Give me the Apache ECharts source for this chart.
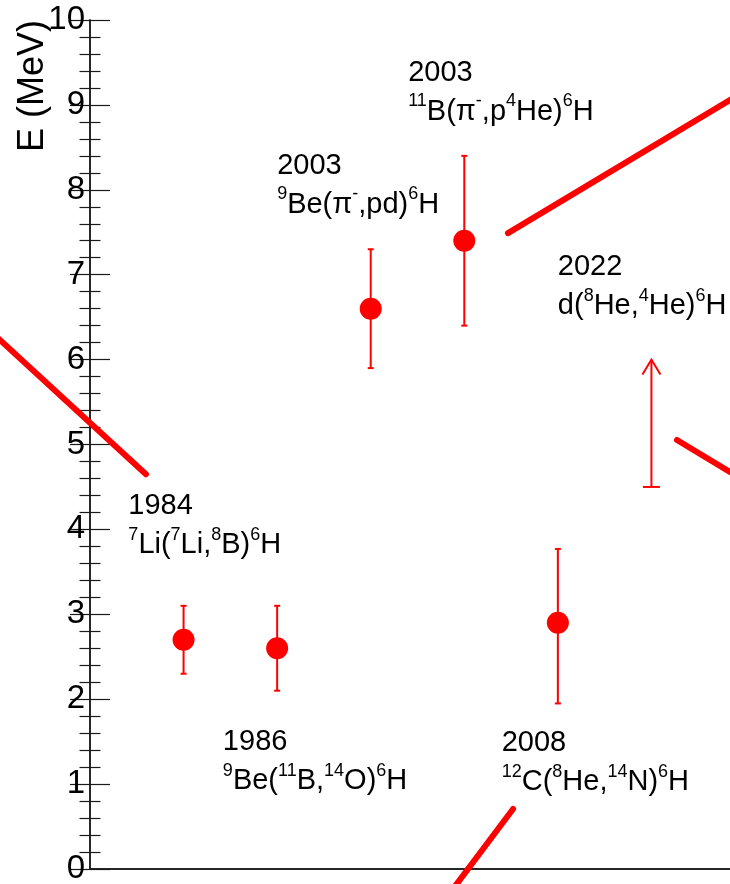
<!DOCTYPE html>
<html>
<head>
<meta charset="utf-8">
<script src="https://cdn.jsdelivr.net/npm/echarts@6/dist/echarts.min.js"></script>
<style>
  html, body { margin: 0; padding: 0; background: #ffffff; }
  #chart { width: 730px; height: 884px; }
</style>
</head>
<body>
<div id="chart"></div>
<script>
// Measured 6H ground-state energies with their uncertainties
const xPos     = [1, 2, 3, 4, 5];
const energy   = [2.7, 2.6, 6.6, 7.4, 2.9];
const errLow   = [2.3, 2.1, 5.9, 6.4, 1.95];
const errHigh  = [3.1, 3.1, 7.3, 8.4, 3.77];

// Lower limit reported in 2022
const limitX    = [6];
const limitFrom = [4.5];
const limitTo   = [6.0];

// Vertical axis ticks
const yMin = 0, yMax = 10, yStep = 1;

// Experiment captions: year and reaction (^{..} = superscript)
const years     = ['1984', '1986', '2003', '2003', '2008', '2022'];
const reactions = [
  '^{7}Li(^{7}Li,^{8}B)^{6}H',
  '^{9}Be(^{11}B,^{14}O)^{6}H',
  '^{9}Be(π^{-},pd)^{6}H',
  '^{11}B(π^{-},p^{4}He)^{6}H',
  '^{12}C(^{8}He,^{14}N)^{6}H',
  'd(^{8}He,^{4}He)^{6}H'
];
// Caption anchors (top-left corner, in axis units)
const captionX = [0.41, 1.42, 2.00, 3.40, 4.40, 5.00];
const captionY = [4.50, 1.72, 8.51, 9.61, 1.71, 7.32];

// Thick red guide strokes (axis units)
const guideA = [[-1.07, 6.34], [0.598, 4.65]];
const guideB = [[4.467, 7.49], [7.0, 9.164]];
const guideC = [[6.273, 5.053], [7.0, 4.57]];
const guideD = [[4.521, 0.707], [3.831, -0.306]];
const guides = [guideA, guideB, guideC, guideD];

const RED = '#ff0000';
const FONT = '"Liberation Sans", Arial, Helvetica, sans-serif';

function toRich(str) {
  // turn "^{9}Be(..." into rich-text tokens
  let out = '';
  const re = /\^\{([^}]*)\}/g;
  let last = 0, m;
  while ((m = re.exec(str)) !== null) {
    if (m.index > last) out += '{m|' + str.slice(last, m.index) + '}';
    out += '{s|' + m[1] + '}';
    last = re.lastIndex;
  }
  if (last < str.length) out += '{m|' + str.slice(last) + '}';
  return out;
}

const chart = echarts.init(document.getElementById('chart'), null, { renderer: 'canvas' });

const axisLine = { show: true, lineStyle: { color: '#1a1a1a', width: 1.5 } };
const tickStyle = { color: '#1a1a1a', width: 1.2 };

const option = {
  animation: false,
  backgroundColor: '#ffffff',
  grid: { left: 90, top: 20, width: 655, height: 849, containLabel: false, outerBoundsMode: 'none' },
  xAxis: [
    { type: 'value', min: 0, max: 7, position: 'bottom',
      axisLine: axisLine, axisTick: { show: false }, axisLabel: { show: false }, splitLine: { show: false } },
    { type: 'value', min: 0, max: 7, position: 'top',
      axisLine: axisLine, axisTick: { show: false }, axisLabel: { show: false }, splitLine: { show: false } }
  ],
  yAxis: [
    { type: 'value', min: yMin, max: yMax, interval: yStep, position: 'left',
      axisLine: axisLine,
      axisTick: { show: true, inside: true, length: 20, lineStyle: tickStyle },
      minorTick: { show: true, splitNumber: 5, length: 10.5, lineStyle: tickStyle },
      axisLabel: { show: true, inside: false, margin: 5, fontSize: 33, color: '#000', fontFamily: FONT },
      splitLine: { show: false } },
    { type: 'value', min: yMin, max: yMax, interval: yStep, position: 'right',
      axisLine: axisLine,
      axisTick: { show: true, inside: true, length: 20, lineStyle: tickStyle },
      minorTick: { show: true, splitNumber: 5, length: 10.5, lineStyle: tickStyle },
      axisLabel: { show: false },
      splitLine: { show: false } }
  ],
  graphic: [
    { type: 'text', x: 33, y: 20, rotation: Math.PI / 2,
      style: { text: 'E (MeV)', font: '36px ' + FONT, fill: '#000', align: 'right', verticalAlign: 'middle' } }
  ],
  series: [
    // guide strokes
    {
      type: 'custom', z: 1, clip: false, silent: true,
      data: guides.map(g => [g[0][0], g[0][1], g[1][0], g[1][1]]),
      renderItem: function (params, api) {
        const a = api.coord([api.value(0), api.value(1)]);
        const b = api.coord([api.value(2), api.value(3)]);
        return { type: 'line', shape: { x1: a[0], y1: a[1], x2: b[0], y2: b[1] },
                 style: { stroke: RED, lineWidth: 6, lineCap: 'round' } };
      }
    },
    // error bars
    {
      type: 'custom', z: 2, clip: false,
      data: xPos.map((x, i) => [x, errLow[i], errHigh[i]]),
      renderItem: function (params, api) {
        const x = api.value(0);
        const lo = api.coord([x, api.value(1)]);
        const hi = api.coord([x, api.value(2)]);
        const c = 3;
        const st = { stroke: RED, lineWidth: 2 };
        return { type: 'group', children: [
          { type: 'line', shape: { x1: lo[0], y1: lo[1], x2: hi[0], y2: hi[1] }, style: st },
          { type: 'line', shape: { x1: lo[0] - c, y1: lo[1], x2: lo[0] + c, y2: lo[1] }, style: st },
          { type: 'line', shape: { x1: hi[0] - c, y1: hi[1], x2: hi[0] + c, y2: hi[1] }, style: st }
        ] };
      }
    },
    // central values
    {
      type: 'scatter', z: 3, symbol: 'circle', symbolSize: 22,
      itemStyle: { color: RED, opacity: 1 },
      data: xPos.map((x, i) => [x, energy[i]])
    },
    // lower-limit arrow
    {
      type: 'custom', z: 2, clip: false,
      data: limitX.map((x, i) => [x, limitFrom[i], limitTo[i]]),
      renderItem: function (params, api) {
        const x = api.value(0);
        const lo = api.coord([x, api.value(1)]);
        const hi = api.coord([x, api.value(2)]);
        const st = { stroke: RED, lineWidth: 2, fill: null };
        return { type: 'group', children: [
          { type: 'line', shape: { x1: lo[0], y1: lo[1], x2: hi[0], y2: hi[1] }, style: st },
          { type: 'line', shape: { x1: lo[0] - 8.5, y1: lo[1], x2: lo[0] + 8.5, y2: lo[1] }, style: st },
          { type: 'polyline', shape: { points: [[hi[0] - 9, hi[1] + 15], [hi[0], hi[1]], [hi[0] + 9, hi[1] + 15]] }, style: st }
        ] };
      }
    },
    // captions
    {
      type: 'custom', z: 4, clip: false, silent: true,
      data: captionX.map((x, i) => [x, captionY[i]]),
      renderItem: function (params, api) {
        const i = params.dataIndex;
        const p = api.coord([api.value(0), api.value(1)]);
        return {
          type: 'text', x: p[0], y: p[1],
          style: {
            text: '{m|' + years[i] + '}\n' + toRich(reactions[i]),
            align: 'left', verticalAlign: 'top', fill: '#000',
            rich: {
              m: { fontSize: 29, lineHeight: 39, fontFamily: FONT, fill: '#000', color: '#000' },
              s: { fontSize: 18, lineHeight: 21, fontFamily: FONT, verticalAlign: 'top', fill: '#000', color: '#000' }
            }
          }
        };
      }
    }
  ]
};

chart.setOption(option);
</script>
</body>
</html>
